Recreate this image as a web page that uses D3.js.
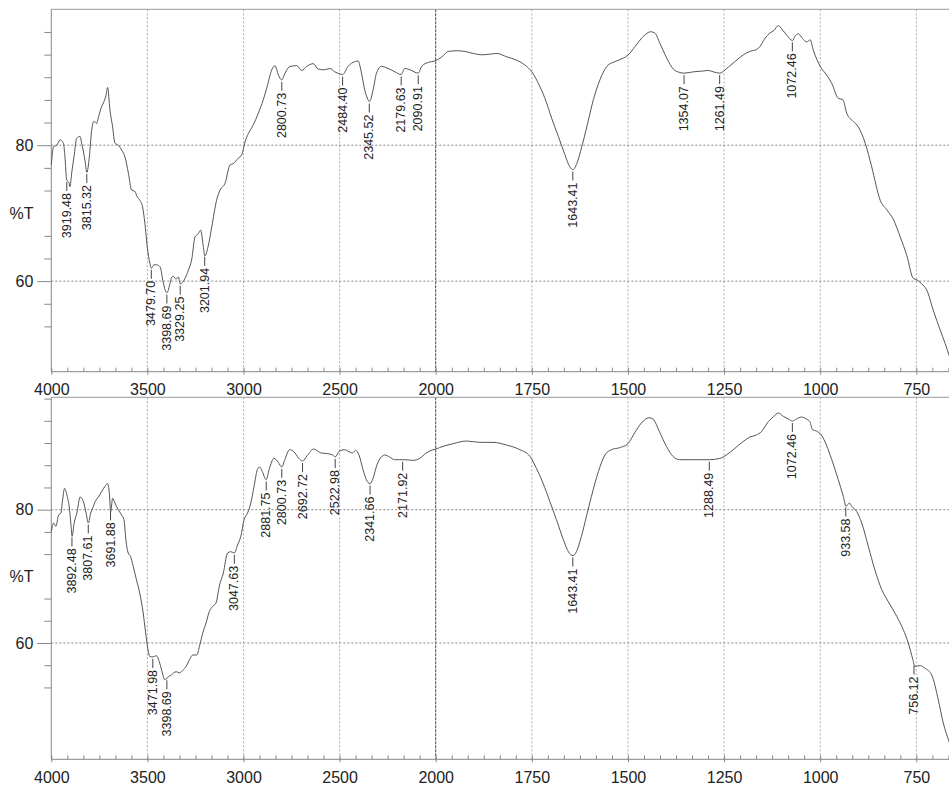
<!DOCTYPE html>
<html>
<head>
<meta charset="utf-8">
<script src="https://cdn.jsdelivr.net/npm/d3@7"></script>
<style>
  body { margin: 0; background: #fff; }
  svg { display: block; font-family: "Liberation Sans", Arial, sans-serif; }
</style>
</head>
<body>
<svg id="chart"></svg>
<script>
// Upper spectrum: wavenumber (cm-1) and %T
const topWn = [4000, 3988, 3971, 3955, 3937, 3929, 3920, 3908, 3903, 3894, 3882, 3868, 3851, 3842, 3825, 3815, 3802, 3790, 3778, 3764,
  3755, 3738, 3726, 3715, 3707, 3695, 3681, 3669, 3651, 3634, 3617, 3599, 3582, 3565, 3553, 3539, 3525, 3513, 3501, 3487,
  3479, 3466, 3452, 3434, 3417, 3403, 3398, 3382, 3373, 3365, 3351, 3339, 3329, 3304, 3287, 3270, 3252, 3235, 3223, 3209,
  3201, 3184, 3165, 3140, 3122, 3096, 3070, 3053, 3027, 3009, 2992, 2975, 2949, 2923, 2897, 2879, 2853, 2836, 2818, 2801,
  2784, 2758, 2723, 2697, 2671, 2637, 2611, 2578, 2551, 2525, 2499, 2484, 2456, 2421, 2404, 2386, 2369, 2352, 2345, 2326,
  2308, 2282, 2248, 2212, 2180, 2160, 2134, 2091, 2073, 2038, 2004, 1984, 1967, 1945, 1924, 1902, 1880, 1859, 1841, 1815,
  1789, 1768, 1750, 1733, 1716, 1698, 1681, 1664, 1651, 1643, 1633, 1620, 1607, 1590, 1573, 1555, 1534, 1521, 1499, 1482,
  1460, 1441, 1430, 1417, 1399, 1382, 1365, 1354, 1330, 1308, 1291, 1278, 1261, 1243, 1222, 1200, 1183, 1165, 1157, 1144,
  1131, 1120, 1109, 1100, 1087, 1072, 1066, 1057, 1046, 1035, 1026, 1018, 1000, 983, 970, 953, 941, 931, 914, 901,
  883, 866, 844, 827, 809, 792, 775, 758, 749, 736, 723, 706, 688, 675, 665, 650];
const topT = [77.1, 79.8, 80.0, 80.8, 80.3, 78.3, 74.9, 74.5, 73.9, 75.9, 78.3, 81.0, 81.3, 80.3, 77.8, 76.0, 78.3, 82.2, 83.5, 83.2,
  84.1, 85.7, 86.4, 87.4, 88.5, 85.2, 82.7, 80.3, 80.0, 79.3, 78.3, 75.9, 73.4, 73.2, 72.4, 71.9, 70.9, 68.5, 65.1, 62.6,
  61.9, 62.4, 62.4, 62.1, 59.7, 58.4, 58.3, 59.7, 60.6, 60.7, 60.3, 60.6, 59.6, 60.4, 61.6, 63.1, 66.5, 67.0, 67.5, 65.1,
  63.7, 65.1, 68.0, 71.9, 73.4, 74.4, 77.1, 77.3, 78.1, 78.6, 80.5, 81.7, 83.0, 84.7, 86.7, 88.4, 91.1, 91.7, 90.3, 89.6,
  90.6, 91.6, 91.7, 91.0, 91.6, 92.0, 91.2, 91.1, 91.3, 90.8, 90.5, 90.4, 91.6, 92.3, 92.4, 90.6, 88.1, 86.7, 86.4, 88.1,
  90.6, 91.6, 91.3, 90.8, 90.4, 91.3, 91.1, 90.6, 91.6, 92.2, 92.4, 93.0, 93.8, 93.9, 93.8, 93.5, 93.3, 93.4, 93.5, 93.0,
  92.5, 91.8, 90.8, 89.1, 86.9, 83.9, 81.3, 78.6, 76.8, 76.4, 77.3, 79.8, 82.7, 86.7, 89.6, 91.6, 92.3, 92.6, 93.3, 94.5,
  96.0, 96.7, 96.5, 95.0, 92.8, 91.2, 90.7, 90.6, 90.8, 90.9, 91.0, 90.8, 90.6, 91.3, 92.3, 93.3, 93.8, 94.1, 94.5, 95.7,
  96.5, 96.9, 97.6, 97.1, 96.2, 95.4, 96.0, 96.4, 95.7, 95.2, 95.5, 94.0, 91.6, 90.3, 89.1, 86.9, 86.7, 84.7, 83.5, 82.7,
  80.3, 76.8, 71.9, 70.5, 69.0, 66.5, 63.8, 60.4, 60.2, 59.6, 58.7, 55.7, 52.8, 50.8, 49.1, 46.5];
const topPeaks = [3919.48, 3815.32, 3479.70, 3398.69, 3329.25, 3201.94, 2800.73, 2484.40, 2345.52, 2179.63, 2090.91,
  1643.41, 1354.07, 1261.49, 1072.46];

// Lower spectrum
const botWn = [4000, 3988, 3976, 3962, 3950, 3941, 3931, 3919, 3905, 3897, 3892, 3881, 3867, 3850, 3833, 3819, 3807, 3795, 3781, 3772,
  3755, 3738, 3721, 3707, 3698, 3691, 3681, 3669, 3652, 3634, 3622, 3612, 3600, 3588, 3574, 3557, 3540, 3522, 3509, 3497,
  3488, 3471, 3454, 3436, 3422, 3410, 3399, 3388, 3376, 3364, 3350, 3333, 3316, 3298, 3281, 3264, 3243, 3229, 3212, 3195,
  3178, 3160, 3143, 3126, 3105, 3083, 3066, 3048, 3031, 3014, 2997, 2979, 2962, 2945, 2928, 2916, 2902, 2882, 2867, 2841,
  2819, 2801, 2785, 2760, 2738, 2712, 2693, 2669, 2635, 2609, 2595, 2561, 2535, 2523, 2500, 2474, 2451, 2434, 2417, 2399,
  2378, 2361, 2342, 2326, 2306, 2283, 2266, 2240, 2214, 2188, 2172, 2162, 2118, 2083, 2049, 2014, 2000, 1981, 1955, 1920,
  1885, 1851, 1816, 1781, 1755, 1738, 1721, 1703, 1686, 1668, 1655, 1643, 1634, 1621, 1608, 1595, 1577, 1560, 1543, 1522,
  1500, 1483, 1465, 1445, 1435, 1418, 1400, 1383, 1365, 1331, 1305, 1288, 1261, 1244, 1222, 1201, 1183, 1166, 1153, 1135,
  1121, 1109, 1096, 1083, 1072, 1062, 1049, 1036, 1027, 1020, 1010, 997, 984, 970, 953, 940, 933, 924, 918, 905,
  892, 875, 858, 840, 823, 801, 784, 771, 759, 754, 740, 727, 710, 693, 680, 665, 650];
const botT = [76.7, 78.0, 77.5, 79.2, 79.5, 81.5, 83.2, 82.2, 80.0, 77.5, 76.0, 78.0, 79.5, 81.9, 81.2, 79.5, 78.0, 79.5, 80.5, 81.2,
  81.9, 82.7, 83.5, 83.9, 82.5, 79.7, 81.7, 81.0, 80.0, 79.2, 78.5, 75.5, 73.5, 73.0, 71.5, 69.5, 67.5, 64.5, 61.5, 59.0,
  58.0, 57.9, 58.1, 57.0, 55.5, 54.5, 54.7, 55.0, 55.2, 55.5, 55.7, 55.5, 55.9, 56.5, 57.5, 58.2, 58.2, 59.5, 61.5, 63.0,
  64.7, 65.5, 66.0, 68.5, 70.5, 73.5, 73.7, 73.5, 74.7, 76.0, 78.5, 79.5, 81.0, 83.5, 86.0, 86.4, 85.7, 84.5, 86.0, 87.7,
  87.1, 86.4, 87.5, 89.0, 88.7, 87.7, 87.3, 88.1, 89.1, 88.7, 88.5, 88.4, 88.2, 87.9, 88.8, 89.0, 88.7, 88.5, 88.9, 88.2,
  86.0, 84.5, 83.9, 84.7, 86.7, 87.9, 88.2, 87.9, 87.5, 87.5, 87.5, 87.5, 87.4, 87.7, 88.5, 89.0, 89.1, 89.5, 89.9, 90.3,
  90.1, 90.1, 89.7, 89.0, 88.0, 86.2, 84.0, 81.2, 78.5, 75.5, 73.7, 73.1, 73.7, 76.0, 79.0, 82.0, 85.7, 88.2, 89.0, 89.3,
  89.9, 91.5, 93.0, 93.8, 93.6, 91.7, 89.5, 88.0, 87.5, 87.5, 87.5, 87.5, 87.7, 88.2, 89.2, 90.2, 90.9, 91.2, 91.7, 93.2,
  94.0, 94.5, 94.0, 93.6, 93.3, 93.6, 93.9, 93.6, 93.2, 92.0, 91.8, 91.2, 89.7, 87.5, 84.5, 82.0, 80.5, 81.0, 80.5, 79.7,
  78.0, 74.5, 71.0, 68.0, 66.2, 64.0, 62.0, 60.0, 57.5, 56.5, 56.6, 56.2, 55.2, 51.5, 48.0, 45.2, 42.5];
const botPeaks = [3892.48, 3807.61, 3691.88, 3471.98, 3398.69, 3047.63, 2881.75, 2800.73, 2692.72, 2522.98, 2341.66,
  2171.92, 1643.41, 1288.49, 1072.46, 933.58, 756.12];

// Axis ticks
const xTicks = [4000, 3500, 3000, 2500, 2000, 1750, 1500, 1250, 1000, 750];
const yTicks = [80, 60];

const width = 949;
const height = 789;

const svg = d3.select("#chart")
    .attr("width", width)
    .attr("height", height);

// x scale changes step at 2000 cm-1
const x = d3.scaleLinear()
    .domain([4000, 2000, 650])
    .range([51.3, 435.7, 954.8]);

// minor ticks: 6 per major interval
const xMinor = [];
for (let i = 0; i <= 24; i++) xMinor.push(4000 - i * 500 / 6);
for (let i = 1; i <= 32; i++) xMinor.push(2000 - i * 250 / 6);

const panels = [
    { wn: topWn, t: topT, peaks: topPeaks, top: 9.3, bottom: 371.7, domain: [46.67, 100] },
    { wn: botWn, t: botT, peaks: botPeaks, top: 397.3, bottom: 759.3, domain: [42.55, 96.86] }
];

function interp(wn, ts, v) {
    for (let i = 0; i < wn.length - 1; i++) {
        if (v <= wn[i] && v >= wn[i + 1]) {
            const f = (wn[i] - v) / (wn[i] - wn[i + 1]);
            return ts[i] + f * (ts[i + 1] - ts[i]);
        }
    }
    return ts[ts.length - 1];
}

panels.forEach(p => {
    const y = d3.scaleLinear().domain(p.domain).range([p.bottom, p.top]);
    const g = svg.append("g");

    // y minor ticks every 20/6 %T, skip the one behind the %T label
    const yMinor = [];
    for (let k = -8; k <= 8; k++) {
        const v = 80 + k * 10 / 3;
        if (v > p.domain[0] && v < p.domain[1] && k !== 0 && k !== -6 && k !== -3) yMinor.push(v);
    }

    // grid
    g.selectAll(".vgrid")
        .data(xTicks.slice(1))
        .enter().append("line")
        .attr("x1", d => x(d)).attr("x2", d => x(d))
        .attr("y1", p.top).attr("y2", p.bottom)
        .attr("stroke", d => d === 2000 ? "#444" : "#aaa")
        .attr("stroke-width", 1)
        .attr("stroke-dasharray", d => d === 2000 ? "3,1" : "2,2");

    g.selectAll(".hgrid")
        .data(yTicks)
        .enter().append("line")
        .attr("x1", 51.3).attr("x2", width)
        .attr("y1", d => y(d)).attr("y2", d => y(d))
        .attr("stroke", "#888")
        .attr("stroke-dasharray", "2,2");

    // top frame
    g.append("line")
        .attr("x1", 51.3).attr("x2", width)
        .attr("y1", p.top).attr("y2", p.top)
        .attr("stroke", "#999");

    // y axis
    const yMinorAxis = g.append("g")
        .attr("transform", "translate(51.3,0)")
        .call(d3.axisLeft(y).tickValues(yMinor).tickSize(7).tickSizeOuter(0).tickFormat(""));
    const yAxis = g.append("g")
        .attr("transform", "translate(51.3,0)")
        .call(d3.axisLeft(y).tickValues(yTicks).tickSize(14).tickSizeOuter(0).tickPadding(4));
    yAxis.select(".domain").remove();
    yMinorAxis.select(".domain").attr("d", `M0,${p.top}V${p.bottom}`);
    yAxis.selectAll("text").style("font-size", "16px").attr("fill", "#222");

    // x axis
    const xMinorAxis = g.append("g")
        .attr("transform", `translate(0,${p.bottom})`)
        .call(d3.axisBottom(x).tickValues(xMinor).tickSize(-4).tickSizeOuter(0).tickFormat(""));
    xMinorAxis.select(".domain").attr("d", `M51.3,0H${width}`);
    const xAxis = g.append("g")
        .attr("transform", `translate(0,${p.bottom})`)
        .call(d3.axisBottom(x).tickValues(xTicks).tickSize(3).tickSizeOuter(0).tickPadding(9).tickFormat(d3.format("d")));
    xAxis.select(".domain").remove();
    xAxis.selectAll("text").style("font-size", "16px").attr("fill", "#222");

    g.selectAll(".domain, .tick line").attr("stroke", "#888");

    // %T label
    g.append("text")
        .attr("x", 33.5)
        .attr("y", y(70) + 6)
        .attr("text-anchor", "end")
        .style("font-size", "16px")
        .attr("fill", "#222")
        .text("%T");

    // spectrum
    const line = d3.line()
        .x(d => x(d[0]))
        .y(d => y(d[1]))
        .curve(d3.curveMonotoneX);
    g.append("path")
        .datum(d3.zip(p.wn, p.t))
        .attr("fill", "none")
        .attr("stroke", "#555")
        .attr("stroke-width", 1)
        .attr("d", line);

    // peak labels
    const peaks = g.selectAll(".peak")
        .data(p.peaks)
        .enter().append("g")
        .attr("transform", d => `translate(${x(d)},${y(interp(p.wn, p.t, d))})`);
    peaks.append("line")
        .attr("y1", 2).attr("y2", 11)
        .attr("stroke", "#444");
    peaks.append("text")
        .attr("transform", "translate(0,13) rotate(-90)")
        .attr("text-anchor", "end")
        .attr("dominant-baseline", "central")
        .style("font-size", "12.5px")
        .attr("fill", "#222")
        .text(d => d.toFixed(2));
});
</script>
</body>
</html>
